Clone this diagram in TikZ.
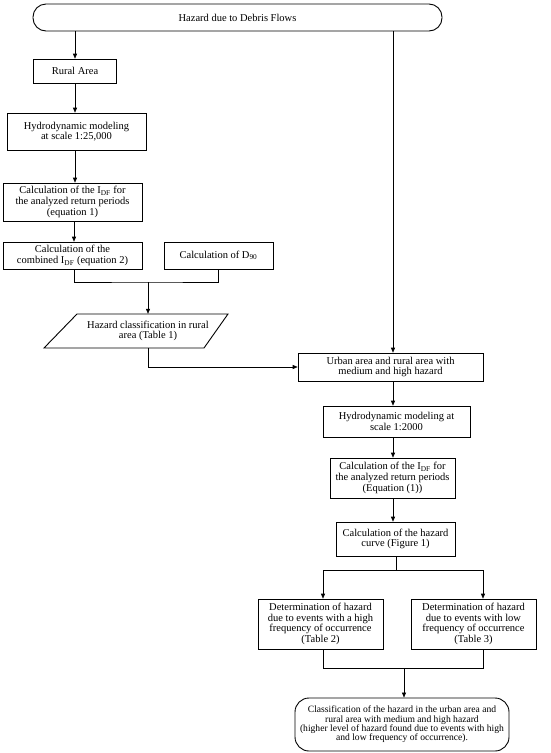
\documentclass[tikz,border=0pt]{standalone}
\usepackage{fontspec}
\setmainfont{Liberation Serif}
\usetikzlibrary{arrows.meta}
\newcommand{\fsz}{\fontsize{10.5pt}{10.6pt}\selectfont}
\newcommand{\fsy}{\fontsize{9.6pt}{9.4pt}\selectfont}
\tikzset{
  box/.style={draw, line width=0.6pt, inner sep=1pt, align=center, font=\fsz},
  arr/.style={-{Triangle[length=5pt,width=4pt]}, line width=0.6pt},
  ln/.style={line width=0.6pt}
}
\begin{document}
\begin{tikzpicture}[x=1pt,y=-1pt]
\useasboundingbox (0,0) rectangle (550,753);
\fill[white] (0,0) rectangle (550,753);
% nodes
\node[box, rounded corners=13pt, line width=0.9pt, minimum width=409pt, minimum height=27pt] (top) at (237.5,17.5) {Hazard due to Debris Flows};
\node[box, minimum width=83pt, minimum height=24pt] (rural) at (75,71) {Rural Area};
\node[box, minimum width=139pt, minimum height=37pt] (hyd1) at (76.5,131.5) {Hydrodynamic modeling\\at scale 1:25,000};
\node[box, minimum width=139pt, minimum height=38pt] (idf1) at (72.5,202) {Calculation of the I\textsubscript{DF} for\\the analyzed return periods\\(equation 1)};
\node[box, minimum width=139pt, minimum height=27pt] (comb) at (72.5,255.5) {Calculation of the\\combined I\textsubscript{DF} (equation 2)};
\node[box, minimum width=109pt, minimum height=27pt] (d90) at (218.5,255.5) {Calculation of D\textsubscript{90}};
\coordinate (pTL) at (77,314);
\coordinate (pTR) at (228,314);
\coordinate (pBR) at (204,348);
\coordinate (pBL) at (44,348);
\draw[line width=0.9pt] (pTL) -- (pTR) -- (pBR) -- (pBL) -- cycle;
\node[align=center, font=\fsz, inner sep=0pt, minimum width=120pt, minimum height=34pt] (para) at (148,331) {Hazard classification in rural\\area (Table 1)};
\node[box, minimum width=185pt, minimum height=28pt] (urban) at (390.5,367) {Urban area and rural area with\\medium and high hazard};
\node[box, minimum width=147pt, minimum height=31pt] (hyd2) at (396.5,421.5) {Hydrodynamic modeling at\\scale 1:2000};
\node[box, minimum width=125pt, minimum height=40pt] (idf2) at (392.5,478) {Calculation of the I\textsubscript{DF} for\\the analyzed return periods\\(Equation (1))};
\node[box, minimum width=119pt, minimum height=34pt] (curve) at (395.5,539) {Calculation of the hazard\\curve (Figure 1)};
\node[box, minimum width=125pt, minimum height=50pt] (detL) at (320.5,624) {Determination of hazard\\due to events with a high\\frequency of occurrence\\(Table 2)};
\node[box, minimum width=125pt, minimum height=50pt] (detR) at (473.5,624) {Determination of hazard\\due to events with low\\frequency of occurrence\\(Table 3)};
\node[box, rounded corners=14pt, line width=0.9pt, minimum width=214pt, minimum height=53pt, font=\fsy] (final) at (402,724.5) {Classification of the hazard in the urban area and\\rural area with medium and high hazard\\(higher level of hazard found due to events with high\\and low frequency of occurrence).};
% helper coordinates
\coordinate (lc) at (75,0);
\coordinate (ux) at (393,0);
\coordinate (j1) at (148,282);
\coordinate (j2) at (396,570);
\coordinate (sL) at (323,570);
\coordinate (sR) at (483,570);
\coordinate (j3) at (404,668);
\coordinate (mL) at (323,668);
\coordinate (mR) at (483,668);
% connectors
\draw[arr] (top.south -| lc) -- (rural.north -| lc);
\draw[arr] (rural.south -| lc) -- (hyd1.north -| lc);
\draw[arr] (hyd1.south -| lc) -- (idf1.north -| lc);
\draw[arr] (idf1.south -| 74,0) -- (comb.north -| 74,0);
\draw[ln] (comb.south -| 74,0) |- (j1) -| (d90.south);
\draw[arr] (j1) -- (para.north);
\draw[arr] (para.south) |- (urban.west);
\draw[arr] (top.south -| ux) -- (urban.north -| ux);
\draw[arr] (urban.south -| ux) -- (hyd2.north -| ux);
\draw[arr] (hyd2.south -| ux) -- (idf2.north -| ux);
\draw[arr] (idf2.south -| ux) -- (curve.north -| ux);
\draw[ln] (curve.south -| j2) -- (j2);
\draw[ln] (sL) -- (sR);
\draw[arr] (sL) -- (detL.north -| sL);
\draw[arr] (sR) -- (detR.north -| sR);
\draw[ln] (detL.south -| mL) -- (mL) -- (mR) -- (detR.south -| mR);
\draw[arr] (j3) -- (final.north -| j3);
\end{tikzpicture}
\end{document}
